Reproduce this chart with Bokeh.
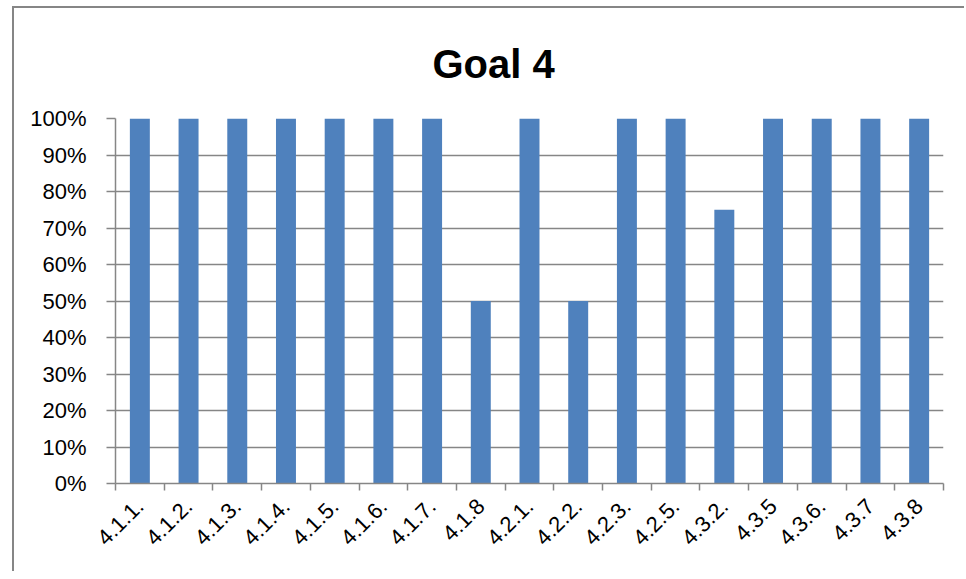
from bokeh.plotting import figure
from bokeh.models import (Range1d, LinearAxis, FixedTicker,
                          NumeralTickFormatter, ColumnDataSource, Title)
from bokeh.embed import file_html
from bokeh.resources import INLINE
import math

categories = ["4.1.1.", "4.1.2.", "4.1.3.", "4.1.4.", "4.1.5.", "4.1.6.", "4.1.7.", "4.1.8",
              "4.2.1.", "4.2.2.", "4.2.3.", "4.2.5.", "4.3.2.", "4.3.5", "4.3.6.", "4.3.7", "4.3.8"]
values = [1.00, 1.00, 1.00, 1.00, 1.00, 1.00, 1.00, 0.50,
          1.00, 0.50, 1.00, 1.00, 0.75, 1.00, 1.00, 1.00, 1.00]
y_ticks = [0.0, 0.1, 0.2, 0.3, 0.4, 0.5, 0.6, 0.7, 0.8, 0.9, 1.0]

FONT = "Liberation Sans"
GRID = "#868686"

n = len(categories)
centers = [i + 0.5 for i in range(n)]
bounds = list(range(n + 1))
src = ColumnDataSource(dict(x=centers, val=values, cat=categories))

p = figure(width=952, height=565, x_range=Range1d(0, n),
           y_range=Range1d(0, 1), output_backend="svg", toolbar_location=None,
           x_axis_location=None, y_axis_location=None,
           min_border_left=101, min_border_right=23, min_border_top=110, min_border_bottom=90)
p.margin = (6, 0, 0, 12)

p.vbar(x="x", top="val", width=0.41, source=src, color="#4F81BD", line_color=None)

title = Title(text="Goal 4", align="left", vertical_align="top", text_font=FONT,
              text_font_size="40px", text_font_style="bold", text_color="black",
              standoff=62, offset=317)
p.add_layout(title, "above")

# category axis: labels at centres, tick marks (minor) at boundaries
xax = LinearAxis(ticker=FixedTicker(ticks=centers, minor_ticks=bounds),
                 major_label_overrides={c: lab for c, lab in zip(centers, categories)})
xax.axis_line_color = GRID
xax.axis_line_width = 1.5
xax.major_tick_line_color = None
xax.major_tick_out = 0
xax.major_tick_in = 0
xax.minor_tick_line_color = GRID
xax.minor_tick_line_width = 1.5
xax.minor_tick_out = 7
xax.minor_tick_in = 0
xax.major_label_orientation = math.pi / 4
xax.major_label_text_font = FONT
xax.major_label_text_font_size = "22px"
xax.major_label_text_color = "black"
xax.major_label_standoff = 12
p.add_layout(xax, "below")

yax = LinearAxis(ticker=FixedTicker(ticks=y_ticks), formatter=NumeralTickFormatter(format="0%"))
yax.axis_line_color = GRID
yax.axis_line_width = 1.5
yax.major_tick_line_color = GRID
yax.major_tick_line_width = 1.5
yax.major_tick_out = 9
yax.major_tick_in = 0
yax.minor_tick_line_color = None
yax.major_label_text_font = FONT
yax.major_label_text_font_size = "22px"
yax.major_label_text_color = "black"
yax.major_label_standoff = 20
p.add_layout(yax, "left")

p.xgrid.grid_line_color = None
p.ygrid.ticker = FixedTicker(ticks=y_ticks)
p.ygrid.grid_line_color = GRID
p.ygrid.grid_line_width = 1.5
p.outline_line_color = None
p.styles = {"border-left": "2px solid #868686", "border-top": "2px solid #868686",
            "border-right": "0px none", "border-bottom": "0px none"}

open("out.html", "w").write(file_html(p, INLINE))
